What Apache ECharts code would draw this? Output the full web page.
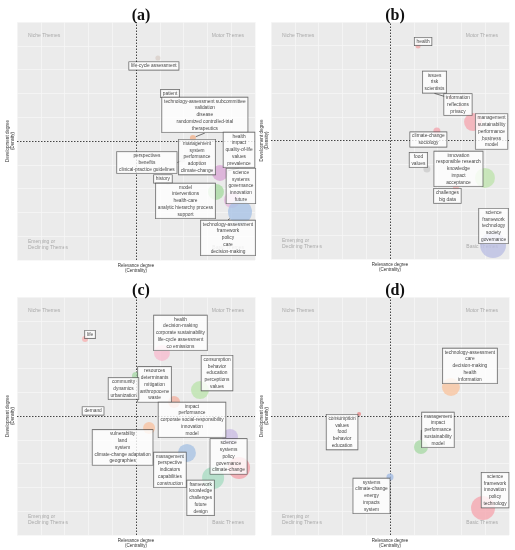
<!DOCTYPE html>
<html><head><meta charset="utf-8">
<script src="https://cdn.jsdelivr.net/npm/echarts@6/dist/echarts.min.js"></script>
<style>html,body{margin:0;padding:0;background:#fff}#c{width:515px;height:550px}</style>
</head><body><div id="c"></div>
<script>
// ---- data (centrality = x, density = y, normalised 0-100; median at 50) ----
const aNames = ['life-cycle assessment','patient','technology-assessment subcommittee\nvalidation\ndisease\nrandomized controlled-trial\ntherapeutics','management\nsystem\nperformance\nadoption\nclimate-change','perspectives\nbenefits\nclinical-practice guidelines','health\nimpact\nquality-of-life\nvalues\nprevalence','science\nsystems\ngovernance\ninnovation\nfuture','history','model\ninterventions\nhealth-care\nanalytic hierarchy process\nsupport','technology-assessment\nframework\npolicy\ncare\ndecision-making'];
const aX = [59.2,64.3,73.9,76.9,69.7,85.3,90.3,63.4,83.6,93.7];
const aY = [84.9,67.2,51.3,42.0,42.0,36.6,25.2,32.4,28.6,20.2];
const aSize = [5,3,6,4,5,16,16,4,16,24];

const bNames = ['health','issues\nrisk\nscientists','information\nreflections\nprivacy','management\nsustainability\nperformance\nbusiness\nmodel','climate-change\nsociology','food\nvalues','innovation\nresponsible research\nknowledge\nimpact\nacceptance','challenges\nbig data','science\nframework\ntechnology\nsociety\ngovernance'];
const bX = [61.8,75.2,79.4,84.9,69.7,65.5,89.9,77.7,93.3];
const bY = [89.9,67.9,63.7,57.8,54.0,38.0,34.2,30.0,5.9];
const bSize = [5,4,4,18,7,7,20,6,26];

const cNames = ['life','health\ndecision-making\ncorporate sustainability\nlife-cycle assessment\nco emissions','consumption\nbehavior\neducation\nperceptions\nvalues','resources\ndeterminants\nmitigation\nanthropocene\nwaste','community\ndynamics\nurbanization','demand','impact\nperformance\ncorporate social-responsibility\ninnovation\nmodel','vulnerability\nland\nsystem\nclimate-change adaptation\ngeographies','management\nperspective\nindicators\ncapabilities\nconstruction','science\nsystems\npolicy\ngovernance\nclimate-change','framework\nknowledge\nchallenges\nfuture\ndesign'];
const cX = [28.6,60.9,76.9,66.0,50.0,32.8,89.5,55.5,71.4,93.3,82.4];
const cY = [82.4,76.5,60.9,55.9,66.8,51.3,41.2,45.0,34.5,28.2,24.0];
const cSize = [6,16,18,12,8,3,16,12,18,22,22];

const dNames = ['technology-assessment\ncare\ndecision-making\nhealth\ninformation','consumption\nvalues\nfood\nbehavior\neducation','management\nimpact\nperformance\nsustainability\nmodel','systems\nclimate-change\nenergy\nimpacts\nsystem','science\nframework\ninnovation\npolicy\ntechnology'];
const dX = [75.6,37.0,63.0,50.0,89.1];
const dY = [62.2,50.8,37.0,24.4,11.3];
const dSize = [18,4,14,7,24];

const quadrantLabels = ['Niche Themes','Motor Themes','Emerging or\nDeclining Themes','Basic Themes'];
const panelTitles = ['(a)','(b)','(c)','(d)'];
const medianX = 50, medianY = 50;

// ---- styles / layout ----
const aColors = ['#d9cfc9','#f3c6b0','#f2b48e','#f2c0a0','#cfcfcf','#d9a8d6','#e3b9dd','#cfcfcf','#a9dba3','#a9c3e6'];
const bColors = ['#f0a8a8','#f4b0b0','#f4b0b0','#f5a9b2','#f4a8b0','#cccccc','#bfe3ae','#f4b0b0','#bcbfe3'];
const cColors = ['#f7b3b3','#f7bdd0','#bde3ae','#f3b3a3','#a9d9a9','#dddddd','#cbbde3','#f8c3a3','#a9c3e3','#f4a3ab','#a9dcc3'];
const dColors = ['#f9c6a1','#e88a8a','#aad9a8','#a3bce3','#f5a8b0'];
const aOffs = [[-4,8],[0,-6.5],[12,-23],[-3,-3],[-36,2.5],[19,-23],[9,-14],[-5,-4],[-30.5,9],[-12,26]];
const bOffs = [[5,-4.5],[-15.5,-16],[-2,-3.5],[18.5,9.5],[-8.5,8.5],[-8.5,-9],[-26.5,-9],[-8.5,8],[0.5,-19]];
const cOffs = [[5,-4.5],[18.5,-20],[17,-17],[-19.5,-17.5],[-12.5,12.5],[-2,-2],[-38,-17],[-26.5,19.5],[-17,17],[-10.5,-11.5],[-12.5,20]];
const dOffs = [[19,-21],[-17,18],[17,-17],[-18.5,19],[12,-18]];
const aLines = [0,0,1,0,1,1,0,0,0,1];
const bLines = [0,1,0,0,0,0,0,0,0];
const cLines = [0,0,0,0,0,0,0,0,0,0,0];
const dLines = [0,0,1,0,0];

const grids = [
  {left:17, top:22, width:238, height:238},
  {left:271, top:22, width:238, height:237},
  {left:17, top:297, width:238, height:238},
  {left:271, top:297, width:238, height:238}
];
const panels = [
  {names:aNames,x:aX,y:aY,size:aSize,colors:aColors,offs:aOffs,lines:aLines},
  {names:bNames,x:bX,y:bY,size:bSize,colors:bColors,offs:bOffs,lines:bLines},
  {names:cNames,x:cX,y:cY,size:cSize,colors:cColors,offs:cOffs,lines:cLines},
  {names:dNames,x:dX,y:dY,size:dSize,colors:dColors,offs:dOffs,lines:dLines}
];

const FONT = 'Liberation Sans, Arial, sans-serif';
const option = {
  animation:false,
  backgroundColor:'#fff',
  title: grids.map((g,i)=>({
    text: panelTitles[i], left: g.left + g.width*medianX/100, top: g.top-19, textAlign:'center',
    textStyle:{fontFamily:'Liberation Serif, DejaVu Serif, serif', fontWeight:'bold', fontSize:16, color:'#111'}
  })),
  grid: grids.map(g=>Object.assign({show:true, backgroundColor:'#ebebeb', borderWidth:0}, g)),
  xAxis: grids.map((g,i)=>({
    type:'value', gridIndex:i, min:0, max:100, interval:10,
    axisLine:{show:false}, axisTick:{show:false}, axisLabel:{show:false},
    splitLine:{show:true, lineStyle:{color:'#f6f6f6', width:0.8}},
    name:'Relevance degree\n(Centrality)', nameLocation:'middle', nameGap:3,
    nameTextStyle:{fontSize:4.5, lineHeight:5, color:'#333', fontFamily:FONT, verticalAlign:'top'}
  })),
  yAxis: grids.map((g,i)=>({
    type:'value', gridIndex:i, min:0, max:100, interval:10,
    axisLine:{show:false}, axisTick:{show:false}, axisLabel:{show:false},
    splitLine:{show:true, lineStyle:{color:'#f6f6f6', width:0.8}},
    name:'Development degree\n(Density)', nameLocation:'middle', nameGap:2, nameRotate:90,
    nameTextStyle:{fontSize:4.5, lineHeight:5, color:'#333', fontFamily:FONT}
  })),
  graphic: [],
  series: []
};
panels.forEach((p,i)=>{
  // median lines drawn first (underneath)
  option.series.push({
    type:'line', xAxisIndex:i, yAxisIndex:i, data:[], z:1, silent:true,
    markLine:{silent:true, symbol:'none', animation:false, label:{show:false},
      lineStyle:{type:[1.5,1.5], color:'#444', width:1},
      data:[{xAxis:medianX},{yAxis:medianY}]}
  });
  option.series.push({
    type:'scatter', xAxisIndex:i, yAxisIndex:i, z:5,
    data: p.names.map((n,j)=>({
      name:n, value:[p.x[j], p.y[j]], symbolSize:p.size[j],
      itemStyle:{color:p.colors[j], opacity:0.8},
      labelLine:{show: !!p.lines[j], lineStyle:{color:'#222', width:0.6}}
    })),
    label:{show:true, position:'inside', formatter:'{b}', fontSize:4.8, lineHeight:6.8,
      color:'#111', fontFamily:FONT, backgroundColor:'#fff', borderColor:'#333', borderWidth:0.6,
      padding:[1,2,0,2], align:'center'},
    labelLayout: (params)=>({dx:p.offs[params.dataIndex][0], dy:p.offs[params.dataIndex][1]}),
    labelLine:{show:false, smooth:false, length2:0}
  });
});
grids.forEach(g=>{
  const st = {fontSize:5, fill:'#aaa', fontFamily:FONT, lineHeight:6.5};
  option.graphic.push({type:'text', left:g.left+11, top:g.top+10, style:Object.assign({text:quadrantLabels[0]},st), z:0});
  option.graphic.push({type:'text', right:515-(g.left+g.width-11), top:g.top+10, style:Object.assign({text:quadrantLabels[1], textAlign:'right'},st), z:0});
  option.graphic.push({type:'text', left:g.left+11, top:g.top+g.height-22, style:Object.assign({text:quadrantLabels[2]},st), z:0});
  option.graphic.push({type:'text', right:515-(g.left+g.width-11), top:g.top+g.height-15.5, style:Object.assign({text:quadrantLabels[3], textAlign:'right'},st), z:0});
});
const chart = echarts.init(document.getElementById('c'), null, {renderer:'canvas'});
chart.setOption(option);
</script></body></html>
